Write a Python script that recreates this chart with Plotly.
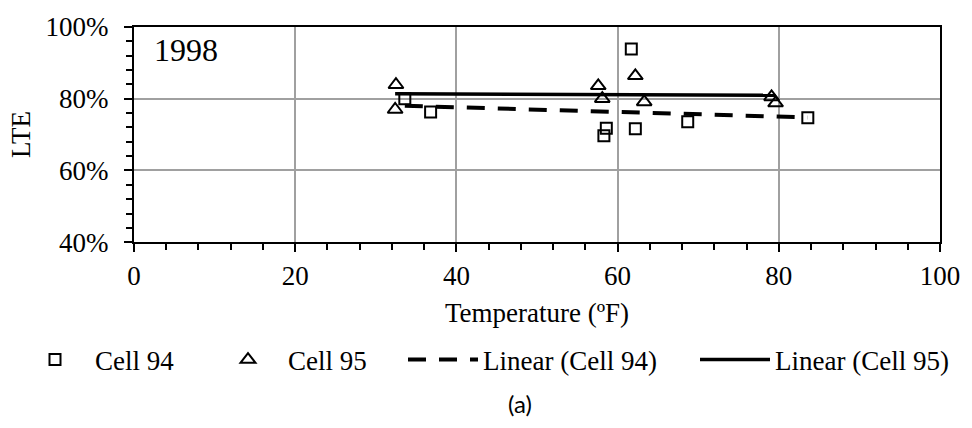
import numpy as np
import plotly.graph_objects as go

# Data
cell94_temp = [33.6, 36.8, 58.3, 58.6, 61.7, 62.2, 68.7, 83.6]
cell94_lte = [80.0, 76.3, 69.7, 71.8, 93.9, 71.6, 73.6, 74.7]
cell95_temp = [32.4, 32.5, 57.6, 58.1, 62.2, 63.3, 79.1, 79.6]
cell95_lte = [77.0, 83.9, 83.6, 80.0, 86.4, 79.1, 80.5, 78.8]
x_ticks = [0, 20, 40, 60, 80, 100]
y_ticks = [40, 60, 80, 100]
year_label = "1998"

SERIF = "Liberation Serif"


def linear_fit(xs, ys):
    xs = np.asarray(xs, float)
    ys = np.asarray(ys, float)
    m, b = np.polyfit(xs, ys, 1)
    xl = np.array([xs.min(), xs.max()])
    return xl, m * xl + b


fx94, fy94 = linear_fit(cell94_temp, cell94_lte)
fx95, fy95 = linear_fit(cell95_temp, cell95_lte)

fig = go.Figure()
fig.add_trace(go.Scatter(
    x=cell94_temp, y=cell94_lte, mode="markers", name="Cell 94", showlegend=True,
    marker=dict(symbol="square-open", size=11, color="black", line=dict(width=2, color="black")),
    legend="legend"))
fig.add_trace(go.Scatter(
    x=cell95_temp, y=cell95_lte, mode="markers", name="Cell 95", showlegend=True,
    marker=dict(symbol="triangle-up-open", size=13, color="black", line=dict(width=2, color="black")),
    legend="legend2"))
fig.add_trace(go.Scatter(
    x=fx94, y=fy94, mode="lines", name="Linear (Cell 94)", showlegend=True,
    line=dict(color="black", width=4, dash="18px,13px"),
    legend="legend3"))
fig.add_trace(go.Scatter(
    x=fx95, y=fy95, mode="lines", name="Linear (Cell 95)", showlegend=True,
    line=dict(color="black", width=3.5),
    legend="legend4"))

L, R, T, B = 134, 26, 20, 185
W, H = 972, 428
pw = W - L - R
ph = H - T - B


def px_x(p):
    return (p - L) / pw


def px_y(p):
    return (H - B - p) / ph


def cx(p):
    return p / W


def cy(p):
    return 1 - p / H


leg_common = dict(orientation="h", yanchor="middle", xanchor="left",
                  xref="container", yref="container",
                  font=dict(family=SERIF, size=27, color="black"),
                  bgcolor="rgba(0,0,0,0)", tracegroupgap=0)
legend_y = cy(360)

fig.update_layout(
    width=W, height=H,
    margin=dict(l=L, r=R, t=T, b=B),
    paper_bgcolor="white", plot_bgcolor="white",
    showlegend=True,
    font=dict(family=SERIF, size=26, color="black"),
    legend=dict(x=cx(15), y=legend_y, itemwidth=70, **leg_common),
    legend2=dict(x=cx(208), y=legend_y, itemwidth=70, **leg_common),
    legend3=dict(x=cx(403), y=legend_y, itemwidth=70, **leg_common),
    legend4=dict(x=cx(695), y=legend_y, itemwidth=70, **leg_common),
    xaxis=dict(
        range=[0, 100], tickvals=x_ticks, ticktext=[str(v) for v in x_ticks],
        showgrid=True, gridcolor="#a0a0a0", gridwidth=2,
        showline=True, linecolor="black", linewidth=2, mirror=True,
        ticks="outside", ticklen=8, tickwidth=2, tickcolor="black",
        minor=dict(dtick=4, ticks="outside", ticklen=6, tickwidth=2, tickcolor="black", showgrid=False),
        zeroline=False, fixedrange=True,
        tickfont=dict(family=SERIF, size=27, color="black"),
        title=dict(text="Temperature (ºF)", font=dict(family=SERIF, size=27, color="black"), standoff=14),
    ),
    yaxis=dict(
        range=[40, 100], tickvals=y_ticks, ticktext=[f"{v}%" for v in y_ticks],
        showgrid=True, gridcolor="#a0a0a0", gridwidth=2,
        showline=True, linecolor="black", linewidth=2, mirror=True,
        ticks="outside", ticklen=8, tickwidth=2, tickcolor="black",
        minor=dict(dtick=4, ticks="outside", ticklen=6, tickwidth=2, tickcolor="black", showgrid=False),
        zeroline=False, fixedrange=True, ticklabelstandoff=10,
        tickfont=dict(family=SERIF, size=27, color="black"),
        title=dict(text="LTE", font=dict(family=SERIF, size=27, color="black"), standoff=7),
    ),
    annotations=[
        dict(text=year_label, xref="paper", yref="paper", x=px_x(152), y=px_y(44),
             xanchor="left", yanchor="middle", showarrow=False,
             font=dict(family=SERIF, size=32, color="black")),
        dict(text="(a)", xref="paper", yref="paper", x=px_x(523), y=px_y(410),
             xanchor="center", yanchor="middle", showarrow=False,
             font=dict(family="Lato", size=24, color="black")),
    ],
)

fig.write_html("out.html")
